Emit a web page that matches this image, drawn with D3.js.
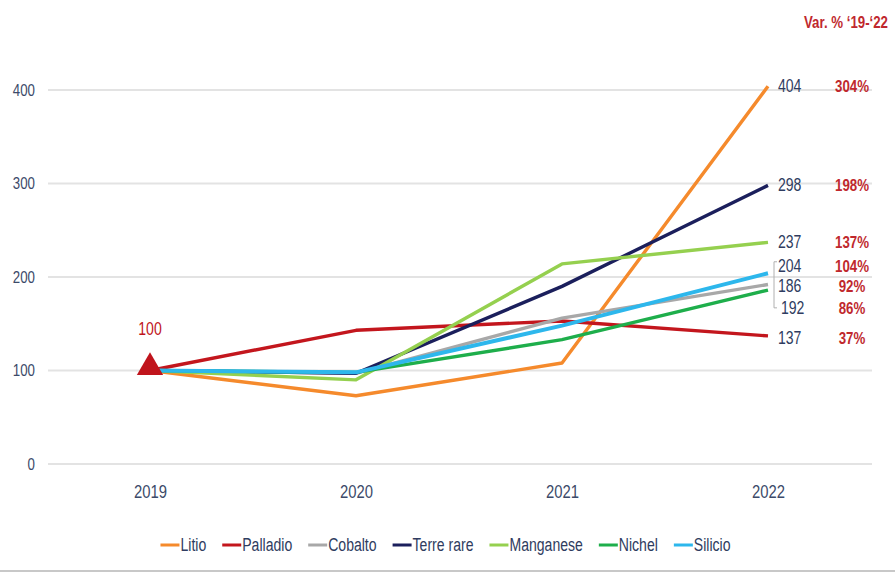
<!DOCTYPE html>
<html>
<head>
<meta charset="utf-8">
<script src="https://cdn.jsdelivr.net/npm/d3@7"></script>
<style>
  body { margin: 0; background: #fff; }
  text { font-family: "Liberation Sans", Arial, sans-serif; }
</style>
</head>
<body>
<div id="chart"></div>
<script>
// data
var years = ['2019', '2020', '2021', '2022'];
var seriesNames = ['Litio', 'Palladio', 'Cobalto', 'Terre rare', 'Manganese', 'Nichel', 'Silicio'];
var litio     = [100, 73, 108, 404];
var palladio  = [100, 143, 153, 137];
var cobalto   = [100, 97, 156, 192];
var terreRare = [100, 97, 190, 298];
var manganese = [100, 90, 214, 237];
var nichel    = [100, 98, 133, 186];
var silicio   = [100, 98, 148, 204];
var yTicks = [0, 100, 200, 300, 400];
var endLabels = ['404', '298', '237', '204', '186', '192', '137'];
var varLabels = ['304%', '198%', '137%', '104%', '92%', '86%', '37%'];

// layout
var width = 895, height = 578;
var colors = ['#f58a2c', '#c3161d', '#a8a8a8', '#1b1f5c', '#95d04f', '#1eae4b', '#2db7ec'];
// vertical spots (in value units) for end labels, nudged apart like the original
var labelSpots = [404, 298, 237, 212, 190, 167, 135];
var squeeze = 0.78; // no narrow font installed, so squeeze glyphs

function narrow(sel) {
    sel.each(function() {
        var w = this.getComputedTextLength();
        d3.select(this)
            .attr('textLength', w * squeeze)
            .attr('lengthAdjust', 'spacingAndGlyphs');
    });
}

var svg = d3.select('#chart').append('svg')
    .attr('width', width)
    .attr('height', height);

var x = d3.scalePoint().domain(years).range([150, 768]);
var y = d3.scaleLinear().domain([0, 400]).range([464, 90]);

// grid
svg.append('g').selectAll('line')
    .data(yTicks)
    .enter().append('line')
    .attr('x1', 48).attr('x2', 872)
    .attr('y1', function(d) { return y(d); })
    .attr('y2', function(d) { return y(d); })
    .attr('stroke', '#e3e3e3')
    .attr('stroke-width', 2);

// y axis
var yAxis = d3.axisLeft(y).tickValues(yTicks).tickSize(0).tickPadding(0);
var gy = svg.append('g').attr('transform', 'translate(35,0)').call(yAxis);
gy.select('.domain').remove();
gy.selectAll('text')
    .attr('font-size', 17)
    .attr('fill', '#3c4a69')
    .style('font-family', '"Liberation Sans", Arial, sans-serif');

// x axis
var xAxis = d3.axisBottom(x).tickSize(0).tickPadding(0);
var gx = svg.append('g').attr('transform', 'translate(0,484)').call(xAxis);
gx.select('.domain').remove();
gx.selectAll('text')
    .attr('font-size', 19)
    .attr('fill', '#3c4a69')
    .style('font-family', '"Liberation Sans", Arial, sans-serif');

// lines
var allSeries = [litio, palladio, cobalto, terreRare, manganese, nichel, silicio];
var line = d3.line()
    .x(function(d, i) { return x(years[i]); })
    .y(function(d) { return y(d); });

svg.append('g').selectAll('path')
    .data(allSeries)
    .enter().append('path')
    .attr('d', line)
    .attr('fill', 'none')
    .attr('stroke', function(d, i) { return colors[i]; })
    .attr('stroke-width', function(d, i) { return i === 6 ? 4 : 3.4; })
    .attr('stroke-linejoin', 'round');

// start marker
var sx = x(years[0]), sy = y(litio[0]);
svg.append('path')
    .attr('d', d3.symbol().type(d3.symbolTriangle).size(300)())
    .attr('transform', 'translate(' + sx + ',' + (sy - 3) + ')')
    .attr('fill', '#c0141c');
svg.append('text')
    .attr('x', sx).attr('y', sy - 36)
    .attr('text-anchor', 'middle')
    .attr('font-size', 18)
    .attr('fill', '#c0141c')
    .text(litio[0]);

// bracket for the crowded labels
svg.append('path')
    .attr('d', 'M777,' + (y(labelSpots[3]) - 4) + ' h-3 v' + (y(labelSpots[5]) - y(labelSpots[3]) + 4) + ' h3')
    .attr('fill', 'none')
    .attr('stroke', '#b0b0b0')
    .attr('stroke-width', 1);

// end labels
svg.append('g').selectAll('text')
    .data(endLabels)
    .enter().append('text')
    .attr('x', function(d, i) { return i === 5 ? 781 : 778; })
    .attr('y', function(d, i) { return y(labelSpots[i]) + 6; })
    .attr('font-size', 18)
    .attr('fill', '#2f3c60')
    .text(function(d) { return d; });

// variation labels
svg.append('g').selectAll('text')
    .data(varLabels)
    .enter().append('text')
    .attr('x', 852)
    .attr('y', function(d, i) { return y(labelSpots[i]) + 6; })
    .attr('text-anchor', 'middle')
    .attr('font-size', 17)
    .attr('font-weight', 'bold')
    .attr('fill', '#c0282d')
    .text(function(d) { return d; });

narrow(svg.selectAll('text'));

// header, squeezed with a transform so its box stays inside the page
svg.append('g')
    .attr('transform', 'translate(888,28) scale(' + squeeze + ',1)')
    .append('text')
    .attr('text-anchor', 'end')
    .attr('font-size', 17)
    .attr('font-weight', 'bold')
    .attr('fill', '#c0282d')
    .text('Var. % \u201819-\u201822');

// legend
var legend = svg.append('g');
var lx = 0;
seriesNames.forEach(function(name, i) {
    var g = legend.append('g').attr('transform', 'translate(' + lx + ',0)');
    g.append('line')
        .attr('x1', 0).attr('x2', 19)
        .attr('y1', 0).attr('y2', 0)
        .attr('stroke', colors[i])
        .attr('stroke-width', 3);
    var t = g.append('text')
        .attr('x', 20).attr('y', 6)
        .attr('font-size', 18)
        .attr('fill', '#2f3c60')
        .text(name);
    var w = t.node().getComputedTextLength() * squeeze;
    narrow(t);
    lx += 20 + w + 16;
});
legend.attr('transform', 'translate(' + ((width - (lx - 16)) / 2 - 2) + ',545)');

// bottom rule
svg.append('line')
    .attr('x1', 0).attr('x2', width)
    .attr('y1', 571).attr('y2', 571)
    .attr('stroke', '#c8c8c8')
    .attr('stroke-width', 2);
</script>
</body>
</html>
